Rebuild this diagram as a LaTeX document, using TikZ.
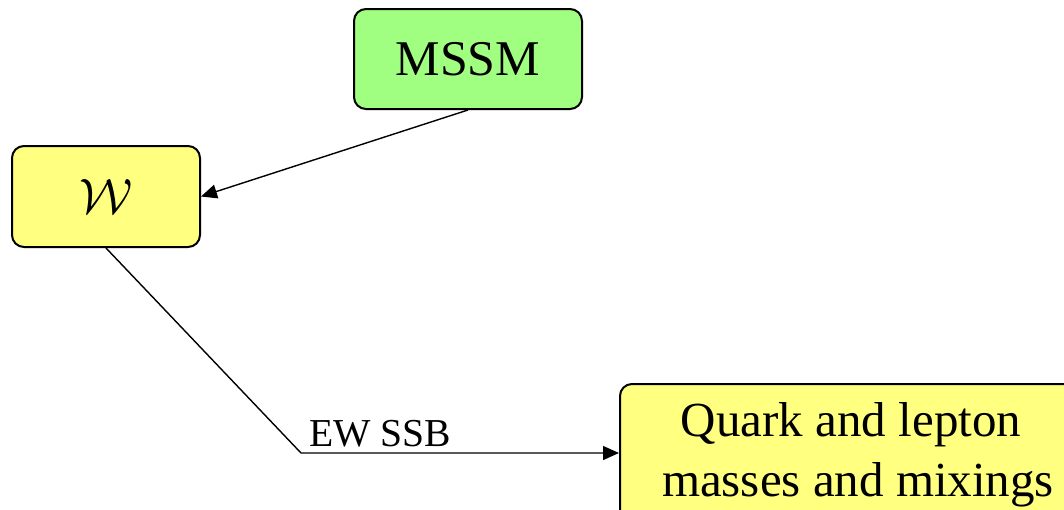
\documentclass[tikz,border=0pt]{standalone}
\usepackage{fontspec}
\setmainfont{Liberation Serif}
\usetikzlibrary{arrows.meta}
\definecolor{boxgreen}{RGB}{160,255,128}
\definecolor{boxyellow}{RGB}{255,255,128}
\begin{document}
\begin{tikzpicture}[x=0.5pt,y=-0.5pt,
  box/.style={draw=black, line width=1pt, rounded corners=6pt, inner sep=0pt, align=center},
  link/.style={draw=black, line width=0.7pt, -{Triangle[length=8pt,width=7pt]}}]
  \useasboundingbox (0,0) rectangle (1064,509);
  \begin{scope}
    \clip (0,0) rectangle (1064,509);
    \node[box, fill=boxgreen, minimum width=114pt, minimum height=50pt,
          font=\fontsize{25}{29}\selectfont] (mssm) at (468,59) {MSSM};
    \node[box, fill=boxyellow, minimum width=94pt, minimum height=50.5pt,
          font=\fontsize{26}{30}\selectfont] (w) at (106,196.5) {$\mathcal{W}$};
    \node[box, fill=boxyellow, minimum width=231pt, minimum height=70.5pt,
          font=\fontsize{24.5}{30}\selectfont] (ql) at (851,454.5)
          {Quark and lepton\\\hspace*{7pt}masses and mixings};
  \end{scope}
  \coordinate (bend) at (301,453);
  \draw[link] (mssm.south) -- (w.east);
  \draw[link] (w.south) -- (bend) -- (bend -| ql.west);
  \node[anchor=south west, inner sep=0pt, font=\fontsize{19.8}{23}\selectfont]
        (ssb) at (309,447) {EW SSB};
\end{tikzpicture}
\end{document}
